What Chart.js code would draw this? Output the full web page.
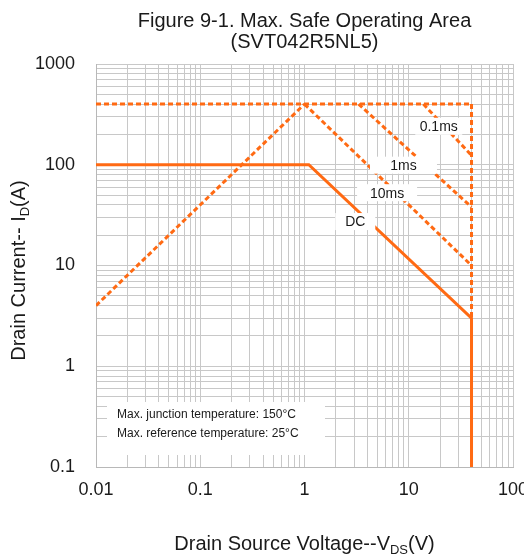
<!DOCTYPE html>
<html>
<head>
<meta charset="utf-8">
<script src="https://cdn.jsdelivr.net/npm/chart.js@4"></script>
<style>
  html, body { margin: 0; padding: 0; background: #fff; }
  #wrap { width: 524px; height: 558px; }
</style>
</head>
<body>
<div id="wrap"><canvas id="soa"></canvas></div>
<script>
// SOA boundaries, V (x) against A (y)
const rdsV = [0.01, 1];
const rdsI = [4, 400];
const pulseTopV = [0.01, 40];
const pulseTopI = [400, 400];
const vmaxV = [40, 40];
const vmaxI = [400, 3];
const t01msV = [13.8, 40];
const t01msI = [400, 124];
const t1msV = [3.3, 40];
const t1msI = [400, 38];
const t10msV = [1, 40];
const t10msI = [400, 10];
const dcV = [0.01, 1.1, 40, 40];
const dcI = [100, 100, 3, 0.1];

// curve names and where they sit on the plot
const curveLabels = ['0.1ms', '1ms', '10ms', 'DC'];
const curveLabelV = [19.4, 8.9, 6.2, 3.07];
const curveLabelI = [241, 99, 52.8, 27.3];

const noteLines = ['Max. junction temperature: 150°C', 'Max. reference temperature: 25°C'];

const xTickValues = [0.01, 0.1, 1, 10, 100];
const xTickLabels = ['0.01', '0.1', '1', '10', '100'];
const yTickValues = [0.1, 1, 10, 100, 1000];
const yTickLabels = ['0.1', '1', '10', '100', '1000'];

const ORANGE = '#ff6a13';
const FONT = "'Liberation Sans', Arial, sans-serif";
const boxW = [47, 67, 60, 40]; // white boxes behind the curve names

function pts(xs, ys) {
  return xs.map((x, i) => ({ x: x, y: ys[i] }));
}

function line(xs, ys, dashed) {
  return {
    data: pts(xs, ys),
    showLine: true,
    borderColor: ORANGE,
    borderWidth: 3,
    borderDash: dashed ? [5, 3] : [],
    pointRadius: 0,
    fill: false,
    tension: 0
  };
}

// 1..9 per decade, like a plotter's log grid
function logTicks(majors) {
  const out = [];
  majors.forEach((m, i) => {
    if (i == majors.length - 1) { out.push(m); return; }
    for (let k = 1; k < 10; k++) out.push(m * k);
  });
  return out;
}

function labelFor(values, labels) {
  return function (value) {
    const i = values.findIndex(v => Math.abs(v - value) / v < 1e-9);
    return i >= 0 ? labels[i] : '';
  };
}

const overlay = {
  id: 'overlay',
  afterDatasetsDraw(chart) {
    const ctx = chart.ctx;
    const xs = chart.scales.x, ys = chart.scales.y;
    const area = chart.chartArea;
    ctx.save();
    ctx.font = '14px ' + FONT;
    ctx.textAlign = 'center';
    ctx.textBaseline = 'middle';
    curveLabels.forEach((txt, i) => {
      const px = xs.getPixelForValue(curveLabelV[i]);
      const py = ys.getPixelForValue(curveLabelI[i]);
      ctx.fillStyle = '#fff';
      ctx.fillRect(px - boxW[i] / 2, py - 8.5, boxW[i], 17);
      ctx.fillStyle = '#1a1a1a';
      ctx.fillText(txt, px, py + 1);
    });

    // conditions note, bottom left
    ctx.fillStyle = '#fff';
    ctx.fillRect(area.left + 11, area.bottom - 65, 218, 53);
    ctx.fillStyle = '#1a1a1a';
    ctx.font = '12px ' + FONT;
    ctx.textAlign = 'left';
    ctx.textBaseline = 'alphabetic';
    ctx.fillText(noteLines[0], area.left + 21, area.bottom - 49);
    ctx.fillText(noteLines[1], area.left + 21, area.bottom - 30);
    ctx.restore();
  },
  afterDraw(chart) {
    const ctx = chart.ctx;
    const area = chart.chartArea;
    ctx.save();
    ctx.fillStyle = '#1a1a1a';
    ctx.textBaseline = 'alphabetic';
    ctx.textAlign = 'left';

    // x title with subscript
    const big = '20px ' + FONT, small = '13px ' + FONT;
    ctx.font = big;
    const a = 'Drain Source Voltage--V', c = '(V)';
    const wa = ctx.measureText(a).width, wc = ctx.measureText(c).width;
    ctx.font = small;
    const wb = ctx.measureText('DS').width;
    let x = (area.left + area.right) / 2 - (wa + wb + wc) / 2;
    const y = 550;
    ctx.font = big; ctx.fillText(a, x, y); x += wa;
    ctx.font = small; ctx.fillText('DS', x, y + 4); x += wb;
    ctx.font = big; ctx.fillText(c, x, y);

    // y title, rotated
    ctx.translate(25, (area.top + area.bottom) / 2 + 5);
    ctx.rotate(-Math.PI / 2);
    ctx.font = big;
    const ya = 'Drain Current-- I', yc = '(A)';
    const wya = ctx.measureText(ya).width, wyc = ctx.measureText(yc).width;
    ctx.font = small;
    const wyb = ctx.measureText('D').width;
    x = -(wya + wyb + wyc) / 2;
    ctx.font = big; ctx.fillText(ya, x, 0); x += wya;
    ctx.font = small; ctx.fillText('D', x, 4); x += wyb;
    ctx.font = big; ctx.fillText(yc, x, 0);
    ctx.restore();
  }
};

new Chart(document.getElementById('soa'), {
  type: 'scatter',
  data: {
    datasets: [
      line(rdsV, rdsI, true),
      line(pulseTopV, pulseTopI, true),
      line(vmaxV, vmaxI, true),
      line(t01msV, t01msI, true),
      line(t1msV, t1msI, true),
      line(t10msV, t10msI, true),
      line(dcV, dcI, false)
    ]
  },
  options: {
    responsive: true,
    maintainAspectRatio: false,
    animation: false,
    layout: { padding: { left: 0, right: 11, top: 0, bottom: 0 } },
    plugins: {
      legend: { display: false },
      tooltip: { enabled: false },
      title: {
        display: true,
        fullSize: false,
        text: ['Figure 9-1. Max. Safe Operating Area', '(SVT042R5NL5)'],
        color: '#1a1a1a',
        font: { family: FONT, size: 20, weight: 'normal', lineHeight: 1.05 },
        padding: { top: 11, bottom: 11 }
      }
    },
    scales: {
      x: {
        type: 'logarithmic',
        min: 0.01,
        max: 100,
        afterBuildTicks: s => { s.ticks = logTicks(xTickValues).map(v => ({ value: v })); },
        afterFit: s => { s.height = 91; s.paddingLeft = 0; s.paddingRight = 0; },
        grid: { color: '#c8c8c8', drawTicks: false },
        border: { color: '#b8b8b8' },
        ticks: {
          autoSkip: false,
          maxRotation: 0,
          padding: 12,
          color: '#1a1a1a',
          font: { family: FONT, size: 18 },
          callback: labelFor(xTickValues, xTickLabels)
        }
      },
      y: {
        type: 'logarithmic',
        min: 0.1,
        max: 1000,
        afterBuildTicks: s => { s.ticks = logTicks(yTickValues).map(v => ({ value: v })); },
        afterFit: s => { s.width = 96; },
        grid: { color: '#c8c8c8', drawTicks: false },
        border: { color: '#b8b8b8' },
        ticks: {
          autoSkip: false,
          padding: 21,
          color: '#1a1a1a',
          font: { family: FONT, size: 18 },
          callback: labelFor(yTickValues, yTickLabels)
        }
      }
    }
  },
  plugins: [overlay]
});
</script>
</body>
</html>
